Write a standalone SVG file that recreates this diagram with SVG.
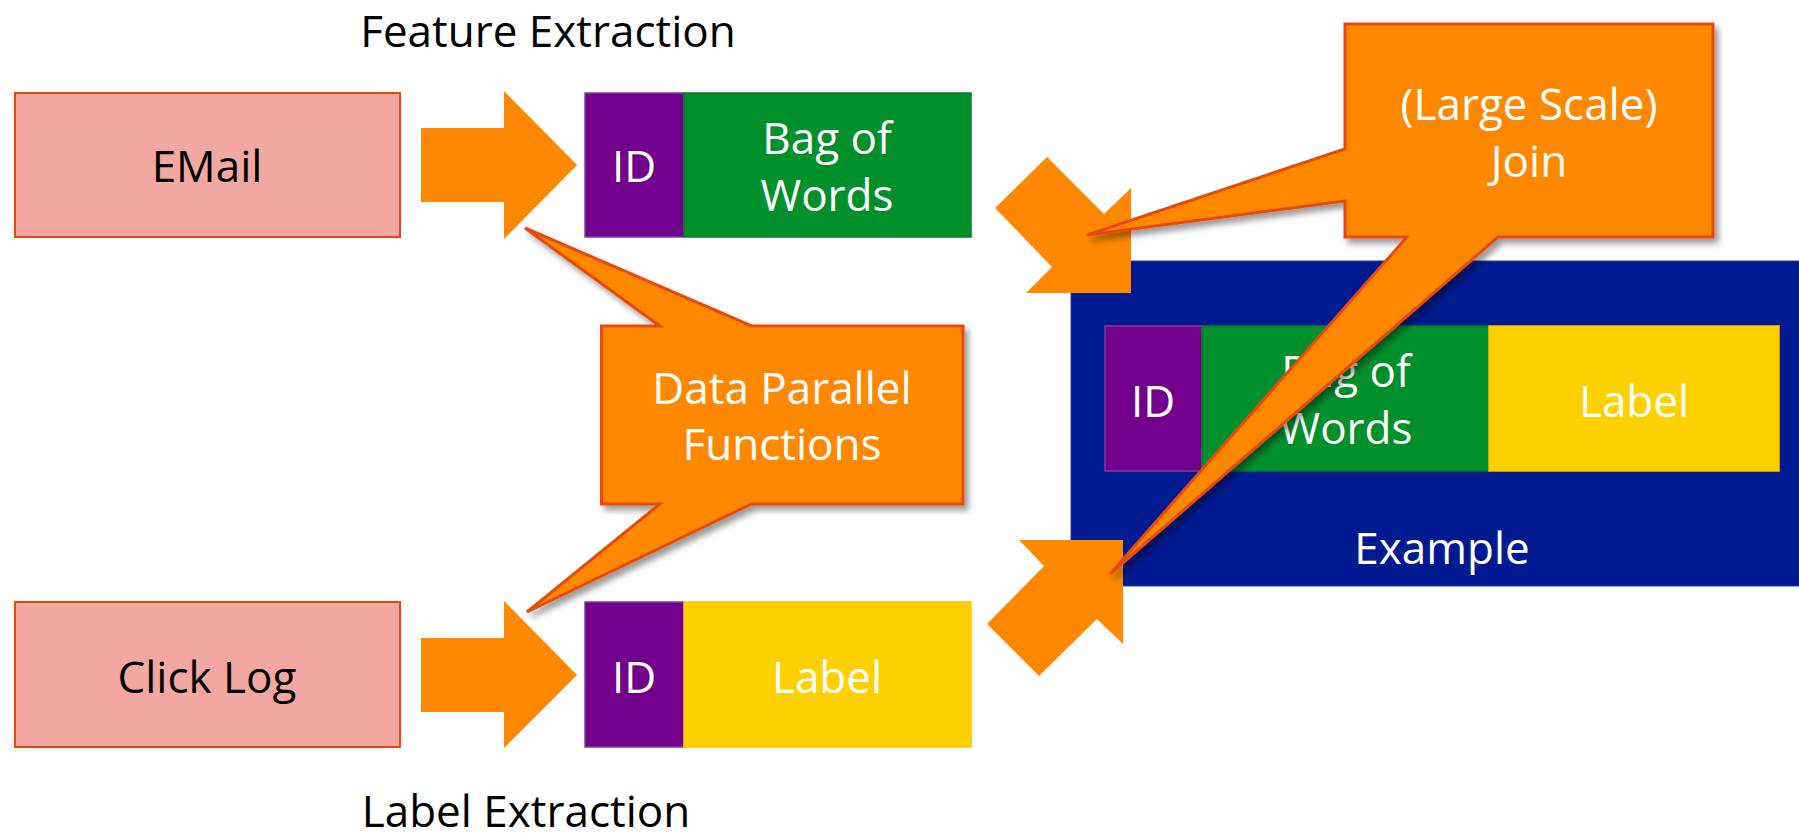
<svg xmlns="http://www.w3.org/2000/svg" width="1799" height="840" viewBox="0 0 1799 840">
  <defs>
    <style>
      text { font-family: "Open Sans", "Noto Sans", "Liberation Sans", sans-serif; font-size: 44px; text-anchor: middle; }
      .dark { fill: #000000; }
      .light { fill: #ffffff; }
      .source { fill: #f2a7a0; stroke: #e8470f; stroke-width: 2; }
      .id { fill: #72008c; stroke: #7e3c9d; stroke-width: 1.5; }
      .bow { fill: #00902b; stroke: #0b7a33; stroke-width: 1.5; }
      .lbl { fill: #ffd000; stroke: #ffc400; stroke-width: 1.5; }
      .arrow { fill: #ff8800; }
      .callout { fill: #ff8800; stroke: #e84a0e; stroke-width: 3; stroke-linejoin: miter; filter: url(#shadow); }
    </style>
    <filter id="shadow" x="-20%" y="-20%" width="140%" height="140%">
      <feDropShadow dx="4" dy="5" stdDeviation="3" flood-color="#000000" flood-opacity="0.4"/>
    </filter>
  </defs>

  <rect x="0" y="0" width="1799" height="840" fill="#ffffff"/>

  <!-- stage captions -->
  <text id="caption-feature" class="dark" x="548" y="47">Feature Extraction</text>
  <text id="caption-label" class="dark" x="526" y="827">Label Extraction</text>

  <!-- joined example record -->
  <g id="example">
    <rect x="1071" y="261" width="740" height="325" fill="#001a91" stroke="#2a3a9a" stroke-width="1"/>
    <rect class="id" x="1105" y="326" width="97" height="145"/>
    <rect class="bow" x="1202" y="326" width="287" height="145"/>
    <rect class="lbl" x="1489" y="326" width="290" height="145"/>
    <text class="light" x="1153" y="417">ID</text>
    <text class="light" x="1346" y="387">Bag of</text>
    <text class="light" x="1346" y="444">Words</text>
    <text class="light" x="1634" y="417">Label</text>
    <text class="light" x="1442" y="564">Example</text>
  </g>

  <!-- raw inputs -->
  <g id="email">
    <rect class="source" x="15" y="93" width="385" height="144"/>
    <text class="dark" x="207" y="182">EMail</text>
  </g>
  <g id="clicklog">
    <rect class="source" x="15" y="602" width="385" height="145"/>
    <text class="dark" x="207" y="693">Click Log</text>
  </g>

  <!-- extracted records -->
  <g id="features">
    <rect class="id" x="585" y="93" width="99" height="144"/>
    <rect class="bow" x="684" y="93" width="287" height="144"/>
    <text class="light" x="634" y="182">ID</text>
    <text class="light" x="827" y="154">Bag of</text>
    <text class="light" x="827" y="211">Words</text>
  </g>
  <g id="labels">
    <rect class="id" x="585" y="602" width="99" height="145"/>
    <rect class="lbl" x="684" y="602" width="287" height="145"/>
    <text class="light" x="634" y="693">ID</text>
    <text class="light" x="827" y="693">Label</text>
  </g>

  <!-- block arrows between stages -->
  <g id="connectors">
    <polygon class="arrow" points="421,128 504,128 504,91 577,165 504,239 504,202 421,202"/>
    <polygon class="arrow" points="421,638 504,638 504,601 577,675 504,748 504,712 421,712"/>
    <polygon class="arrow" points="1047,157 1104,214 1131,188 1131,293 1026,293 1052,267 995,208"/>
    <polygon class="arrow" points="1019,540 1123,540 1123,644 1097,619 1039,676 987,624 1044,566"/>
  </g>

  <!-- annotation callouts -->
  <g id="callout-parallel">
    <path class="callout" d="M601.5,326 L660,326 L525,228 L751.5,326 L963,326 L963,504 L751.5,504 L527,612 L660,504 L601.5,504 Z"/>
    <text class="light" x="782" y="404">Data Parallel</text>
    <text class="light" x="782" y="460">Functions</text>
  </g>
  <g id="callout-join">
    <path class="callout" d="M1345,24 L1713,24 L1713,237 L1498,237 L1110,574 L1407,237 L1345,237 L1345,201 L1087,235 L1345,149 Z"/>
    <text class="light" x="1529" y="120">(Large Scale)</text>
    <text class="light" x="1529" y="177">Join</text>
  </g>
</svg>
